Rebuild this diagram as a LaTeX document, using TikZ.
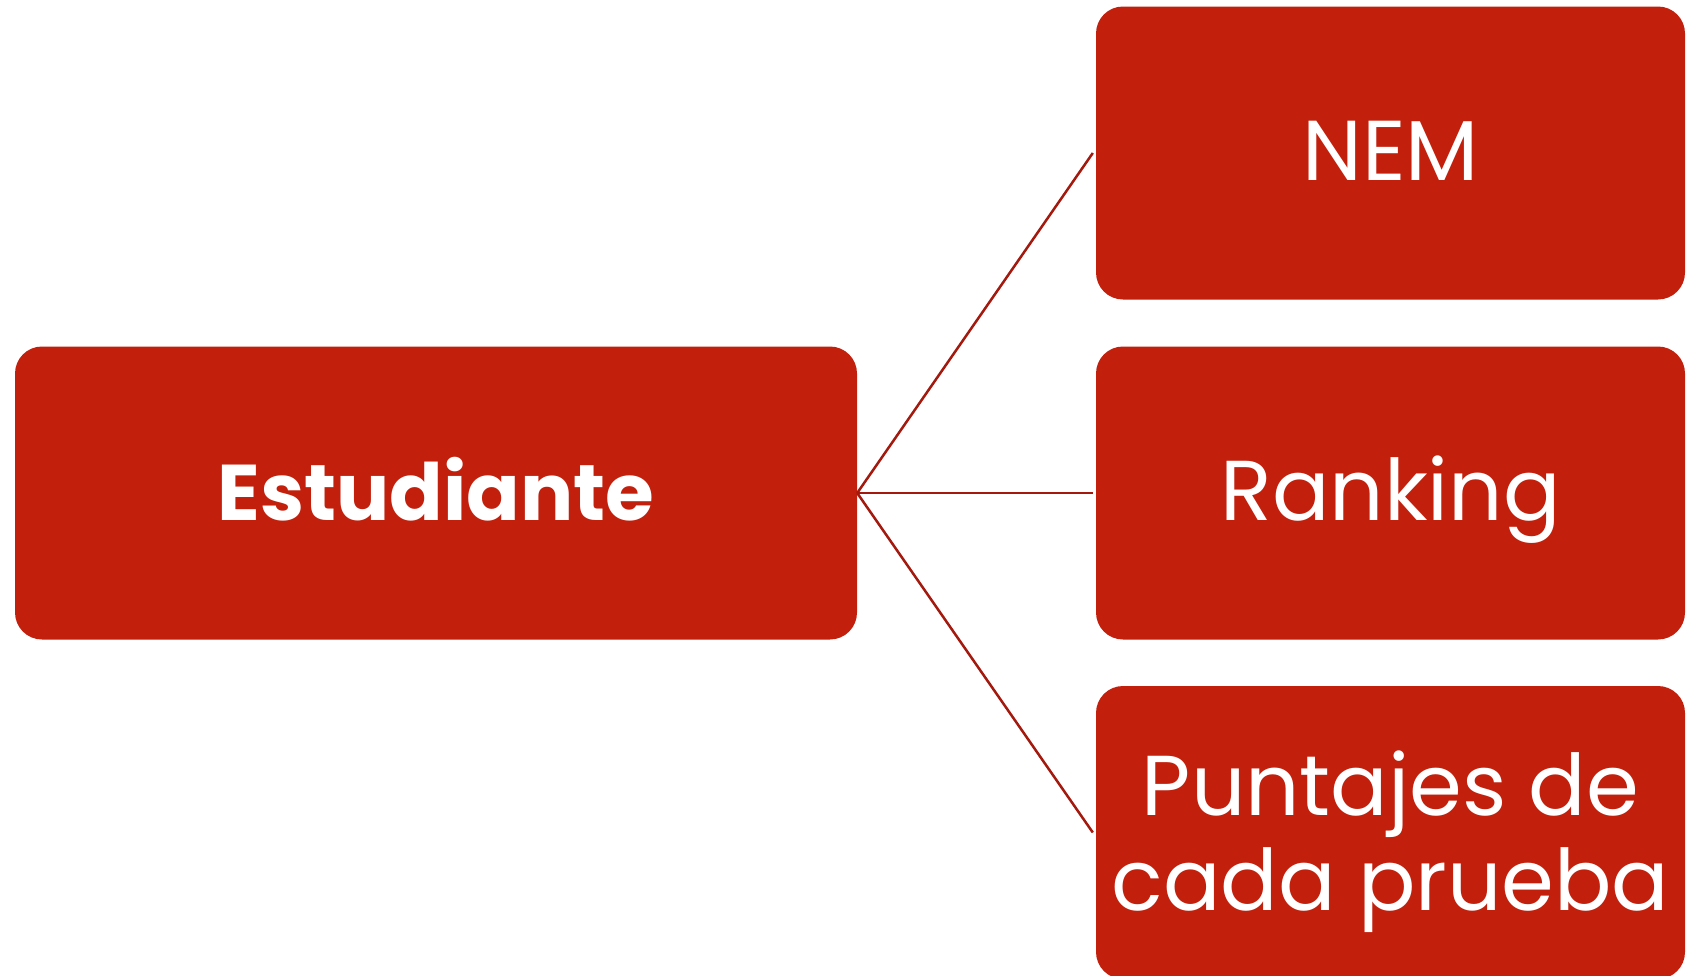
\documentclass[tikz,border=0pt]{standalone}
\usepackage{fontspec}
\setmainfont{Poppins}
\definecolor{boxred}{HTML}{C2200D}
\definecolor{linered}{HTML}{A3190D}
\begin{document}
\begin{tikzpicture}[x=1pt,y=-1pt,
  box/.style={fill=boxred, rounded corners=27pt, text=white, align=center, inner sep=0pt,
    minimum height=293pt},
  smallbox/.style={box, minimum width=589pt},
  conn/.style={draw=linered, line width=2.5pt},
  big/.style={font=\fontsize{85}{95}\selectfont},
  oneline/.style={text height=70pt, text depth=16pt}
]
\useasboundingbox (0,0) rectangle (1686,975);
\node[box, minimum width=842pt, oneline, font=\fontsize{79}{95}\selectfont\bfseries] (est) at (436,493) {Estudiante};
\node[smallbox, big, oneline] (nem) at (1390.5,153) {NEM};
\node[smallbox, big, oneline] (rank) at (1390.5,493) {Ranking};
\node[smallbox, big] (punt) at (1390.5,832.5) {\rule{0pt}{84pt}Puntajes de\\cada prueba};
\draw[conn] (est.east) -- ([xshift=-3pt]nem.west);
\draw[conn] (est.east) -- ([xshift=-3pt]rank.west);
\draw[conn] (est.east) -- ([xshift=-3pt]punt.west);
\end{tikzpicture}
\end{document}
